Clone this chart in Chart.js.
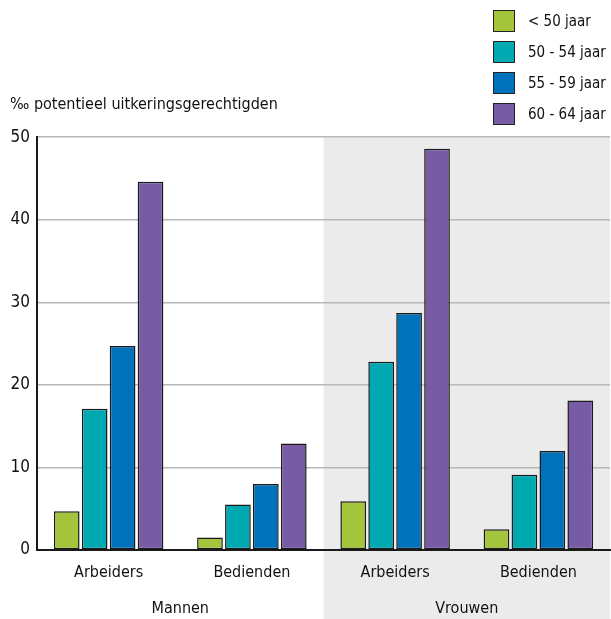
<!DOCTYPE html>
<html>
<head>
<meta charset="utf-8">
<script src="https://cdn.jsdelivr.net/npm/chart.js@4.4.1/dist/chart.umd.min.js"></script>
<style>
  html, body { margin: 0; padding: 0; background: #fff; }
  #wrap { position: relative; width: 611px; height: 619px; }
  #legend { position: absolute; left: 493px; top: 10px; font-family: 'DejaVu Sans Condensed', 'Liberation Sans Narrow', sans-serif; font-size: 15px; color: #111; white-space: nowrap; }
  #legend div { height: 22px; margin-bottom: 9px; display: flex; align-items: center; }
  #legend span.box { width: 20px; height: 20px; border: 1.5px solid #222; margin-right: 13px; flex: none; }
</style>
</head>
<body>
<div id="wrap">
  <canvas id="chart" width="611" height="619"></canvas>
  <div id="legend"></div>
</div>
<script>
// categories (bottom row is the group)
const categories = ['Arbeiders', 'Bedienden', 'Arbeiders', 'Bedienden'];
const groups = ['Mannen', 'Vrouwen'];

// ‰ per age band, order: Mannen arb, Mannen bed, Vrouwen arb, Vrouwen bed
const under50 = [4.7, 1.5, 5.9, 2.5];
const age50_54 = [17.1, 5.5, 22.8, 9.1];
const age55_59 = [24.7, 8.0, 28.7, 12.0];
const age60_64 = [44.6, 12.9, 48.6, 18.1];

const seriesNames = ['< 50 jaar', '50 - 54 jaar', '55 - 59 jaar', '60 - 64 jaar'];
const seriesColors = ['#a3c43b', '#00a9b1', '#0071bb', '#775ba4'];

const yTicks = [0, 10, 20, 30, 40, 50];

const FONT = "'DejaVu Sans Condensed', 'Liberation Sans Narrow', sans-serif";

// legend as html, stacked like the original
const legend = document.getElementById('legend');
seriesNames.forEach(function (name, i) {
  const row = document.createElement('div');
  const box = document.createElement('span');
  box.className = 'box';
  box.style.background = seriesColors[i];
  row.appendChild(box);
  row.appendChild(document.createTextNode(name));
  legend.appendChild(row);
});

// grey band behind the "Vrouwen" half
const greyBand = {
  id: 'greyBand',
  beforeDraw(chart) {
    const x = chart.scales.x;
    const left = (x.getPixelForValue(1) + x.getPixelForValue(2)) / 2;
    const ctx = chart.ctx;
    ctx.save();
    ctx.fillStyle = '#ebebeb';
    ctx.fillRect(left, chart.chartArea.top, chart.chartArea.right - left, chart.height - chart.chartArea.top);
    ctx.restore();
  }
};

const values = [under50, age50_54, age55_59, age60_64];

new Chart(document.getElementById('chart'), {
  type: 'bar',
  data: {
    labels: categories,
    datasets: values.map(function (v, i) {
      return {
        label: seriesNames[i],
        data: v,
        backgroundColor: seriesColors[i],
        borderColor: '#1a1a1a',
        borderWidth: 1.5,
        borderSkipped: false,
        categoryPercentage: 0.78,
        barPercentage: 0.92
      };
    })
  },
  options: {
    responsive: false,
    animation: false,
    layout: { padding: { left: 10, right: 1, top: 0, bottom: 0 } },
    plugins: {
      legend: { display: false },
      tooltip: { enabled: false },
      title: {
        display: true,
        text: '‰ potentieel uitkeringsgerechtigden',
        align: 'start',
        color: '#111',
        font: { family: FONT, size: 16, weight: 'normal' },
        padding: { top: 95, bottom: 23 }
      }
    },
    scales: {
      x: {
        grid: { display: false },
        border: { display: true, color: '#1a1a1a', width: 2 },
        ticks: { color: '#111', font: { family: FONT, size: 16 }, padding: 5 },
        afterFit(s) { s.height = 38; }
      },
      x2: {
        type: 'category',
        labels: groups,
        position: 'bottom',
        offset: true,
        grid: { display: false },
        border: { display: false },
        ticks: { color: '#111', font: { family: FONT, size: 16 }, padding: 3 },
        afterFit(s) { s.height = 31; }
      },
      y: {
        min: 0,
        max: 50,
        afterBuildTicks(s) { s.ticks = yTicks.map(function (v) { return { value: v }; }); },
        grid: { color: '#b8b8b8', lineWidth: 1.5, drawTicks: false },
        border: { display: true, color: '#1a1a1a', width: 2 },
        ticks: { color: '#111', font: { family: FONT, size: 17 }, padding: 7 },
        afterFit(s) { s.width = 27; }
      }
    }
  },
  plugins: [greyBand]
});
</script>
</body>
</html>
